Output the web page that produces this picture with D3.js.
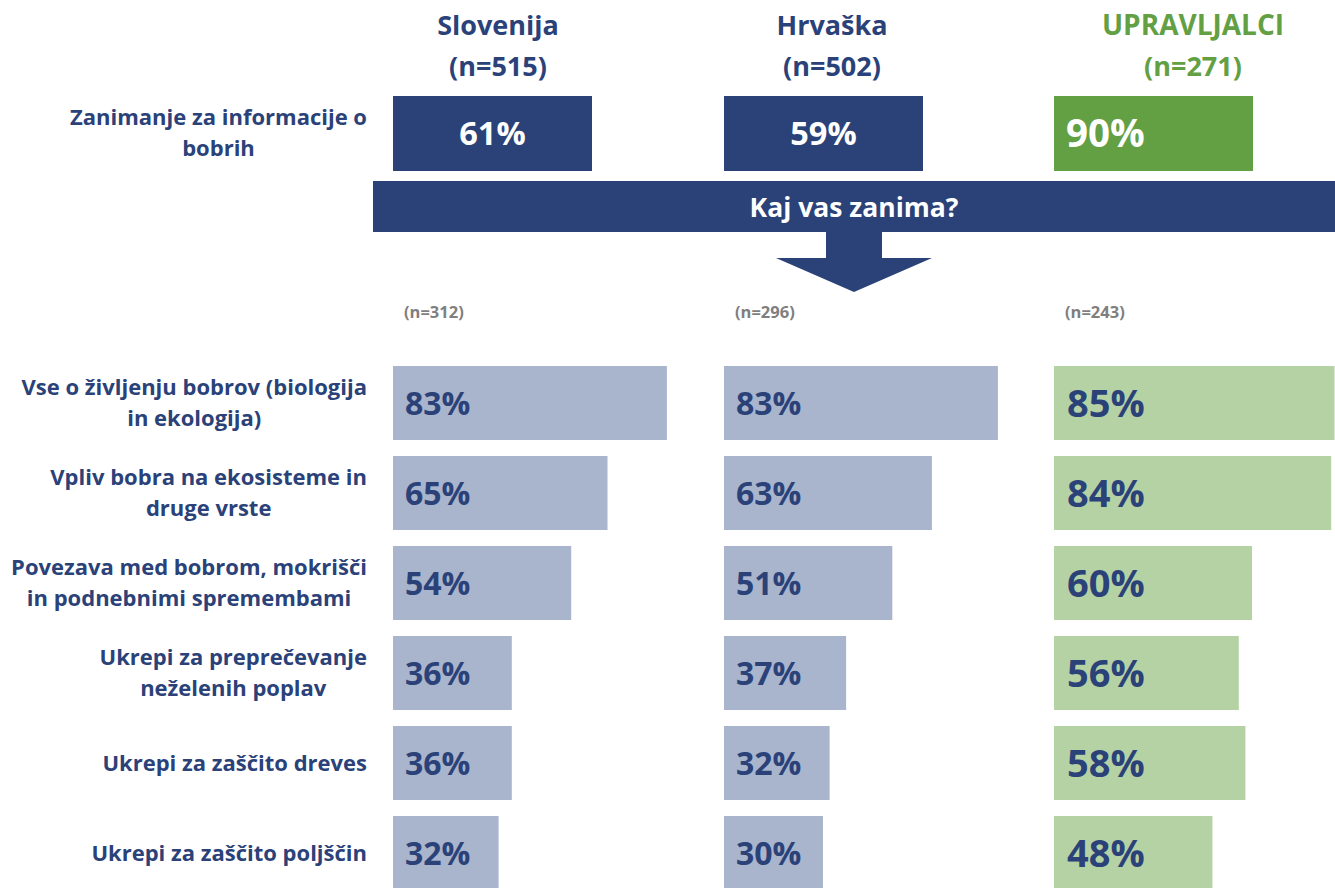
<!DOCTYPE html>
<head>
<meta charset="utf-8">
<title>Zanimanje za informacije o bobrih</title>
<style>
  body { margin: 0; background: #fff; }
  svg text { font-family: "Open Sans", sans-serif; font-weight: 700; }
</style>
</head>
<body>
<svg width="1335" height="888" id="svg1"></svg>
<script src="https://d3js.org/d3.v7.min.js"></script>
<script>

// data
var groups = ["Slovenija", "Hrvaška", "UPRAVLJALCI"];
var groupN = [515, 502, 271];
var interest = [61, 59, 90];
var subN = [312, 296, 243];
var categories = [
  ["Vse o življenju bobrov (biologija", "in ekologija)"],
  ["Vpliv bobra na ekosisteme in", "druge vrste"],
  ["Povezava med bobrom, mokrišči", "in podnebnimi spremembami"],
  ["Ukrepi za preprečevanje", "neželenih poplav"],
  ["Ukrepi za zaščito dreves"],
  ["Ukrepi za zaščito poljščin"]
];
var sloValues = [83, 65, 54, 36, 36, 32];
var hrvValues = [83, 63, 51, 37, 32, 30];
var uprValues = [85, 84, 60, 56, 58, 48];

var series = [sloValues, hrvValues, uprValues];

var dark = "#2b4279",
    lightBlue = "#a9b4cd",
    green = "#63a044",
    lightGreen = "#b5d2a5",
    gray = "#7f7f7f";

var svg = d3.select("#svg1");

var colX = [393, 724, 1054];
var headCx = [498, 832, 1193];
var labelRight = 367;

var x = d3.scaleLinear().domain([0, 100]).range([0, 330]);

var y = d3.scaleBand()
    .domain(d3.range(categories.length))
    .range([366, 890])
    .paddingInner(16 / 90)
    .paddingOuter(0);

// headers
groups.forEach(function(g, i) {
  var col = i == 2 ? green : dark;
  svg.append("text")
    .attr("x", headCx[i]).attr("y", 35)
    .attr("text-anchor", "middle")
    .style("font-size", i == 2 ? "28px" : "27px")
    .attr("fill", col)
    .text(g);
  svg.append("text")
    .attr("x", headCx[i]).attr("y", 76)
    .attr("text-anchor", "middle")
    .style("font-size", "27px")
    .attr("fill", col)
    .text("(n=" + groupN[i] + ")");
});

// multi-line label block, right aligned, lines centred
function blockLabel(lines, cy, size, lh) {
  var g = svg.append("g");
  var t = g.selectAll("text").data(lines).enter().append("text")
    .attr("text-anchor", "middle")
    .style("font-size", size + "px")
    .attr("fill", dark)
    .text(function(d) { return d; });
  var w = 0;
  t.each(function() { w = Math.max(w, this.getComputedTextLength()); });
  var top = cy - (lines.length - 1) * lh / 2;
  t.attr("x", labelRight - w / 2)
   .attr("y", function(d, i) { return top + i * lh; })
   .attr("dy", "0.36em");
}

// top boxes
var boxW = 199, boxY = 96, boxH = 75;
interest.forEach(function(v, i) {
  svg.append("rect")
    .attr("x", colX[i]).attr("y", boxY)
    .attr("width", boxW).attr("height", boxH)
    .attr("fill", i == 2 ? green : dark);
  svg.append("text")
    .attr("x", i == 2 ? colX[i] + 12 : colX[i] + boxW / 2)
    .attr("y", boxY + boxH / 2)
    .attr("dy", "0.36em")
    .attr("text-anchor", i == 2 ? "start" : "middle")
    .style("font-size", i == 2 ? "38.5px" : "32.5px")
    .attr("fill", "#fff")
    .text(v + "%");
});
blockLabel(["Zanimanje za informacije o", "bobrih"], 133, 22, 31);

// banner with arrow
svg.append("rect")
  .attr("x", 373).attr("y", 181)
  .attr("width", 962).attr("height", 51)
  .attr("fill", dark);
svg.append("path")
  .attr("d", "M826,231 L882,231 L882,258 L932,258 L854,292 L776,258 L826,258 Z")
  .attr("fill", dark);
svg.append("text")
  .attr("x", 854).attr("y", 207)
  .attr("dy", "0.36em")
  .attr("text-anchor", "middle")
  .style("font-size", "26.5px")
  .attr("fill", "#fff")
  .text("Kaj vas zanima?");

// sub n
subN.forEach(function(n, i) {
  svg.append("text")
    .attr("x", colX[i] + 11).attr("y", 318)
    .style("font-size", "16.5px")
    .attr("fill", gray)
    .text("(n=" + n + ")");
});

// bars
series.forEach(function(vals, s) {
  var g = svg.append("g").attr("transform", "translate(" + colX[s] + ",0)");
  g.selectAll("rect").data(vals).enter().append("rect")
    .attr("x", 0)
    .attr("y", function(d, i) { return y(i); })
    .attr("width", function(d) { return x(d); })
    .attr("height", y.bandwidth())
    .attr("fill", s == 2 ? lightGreen : lightBlue);
  g.selectAll("text").data(vals).enter().append("text")
    .attr("x", s == 2 ? 13 : 12)
    .attr("y", function(d, i) { return y(i) + y.bandwidth() / 2; })
    .attr("dy", "0.36em")
    .style("font-size", s == 2 ? "38px" : "32px")
    .attr("fill", dark)
    .text(function(d) { return d + "%"; });
});

categories.forEach(function(lines, i) {
  blockLabel(lines, y(i) + y.bandwidth() / 2, 22, 31);
});

</script>
</body>
